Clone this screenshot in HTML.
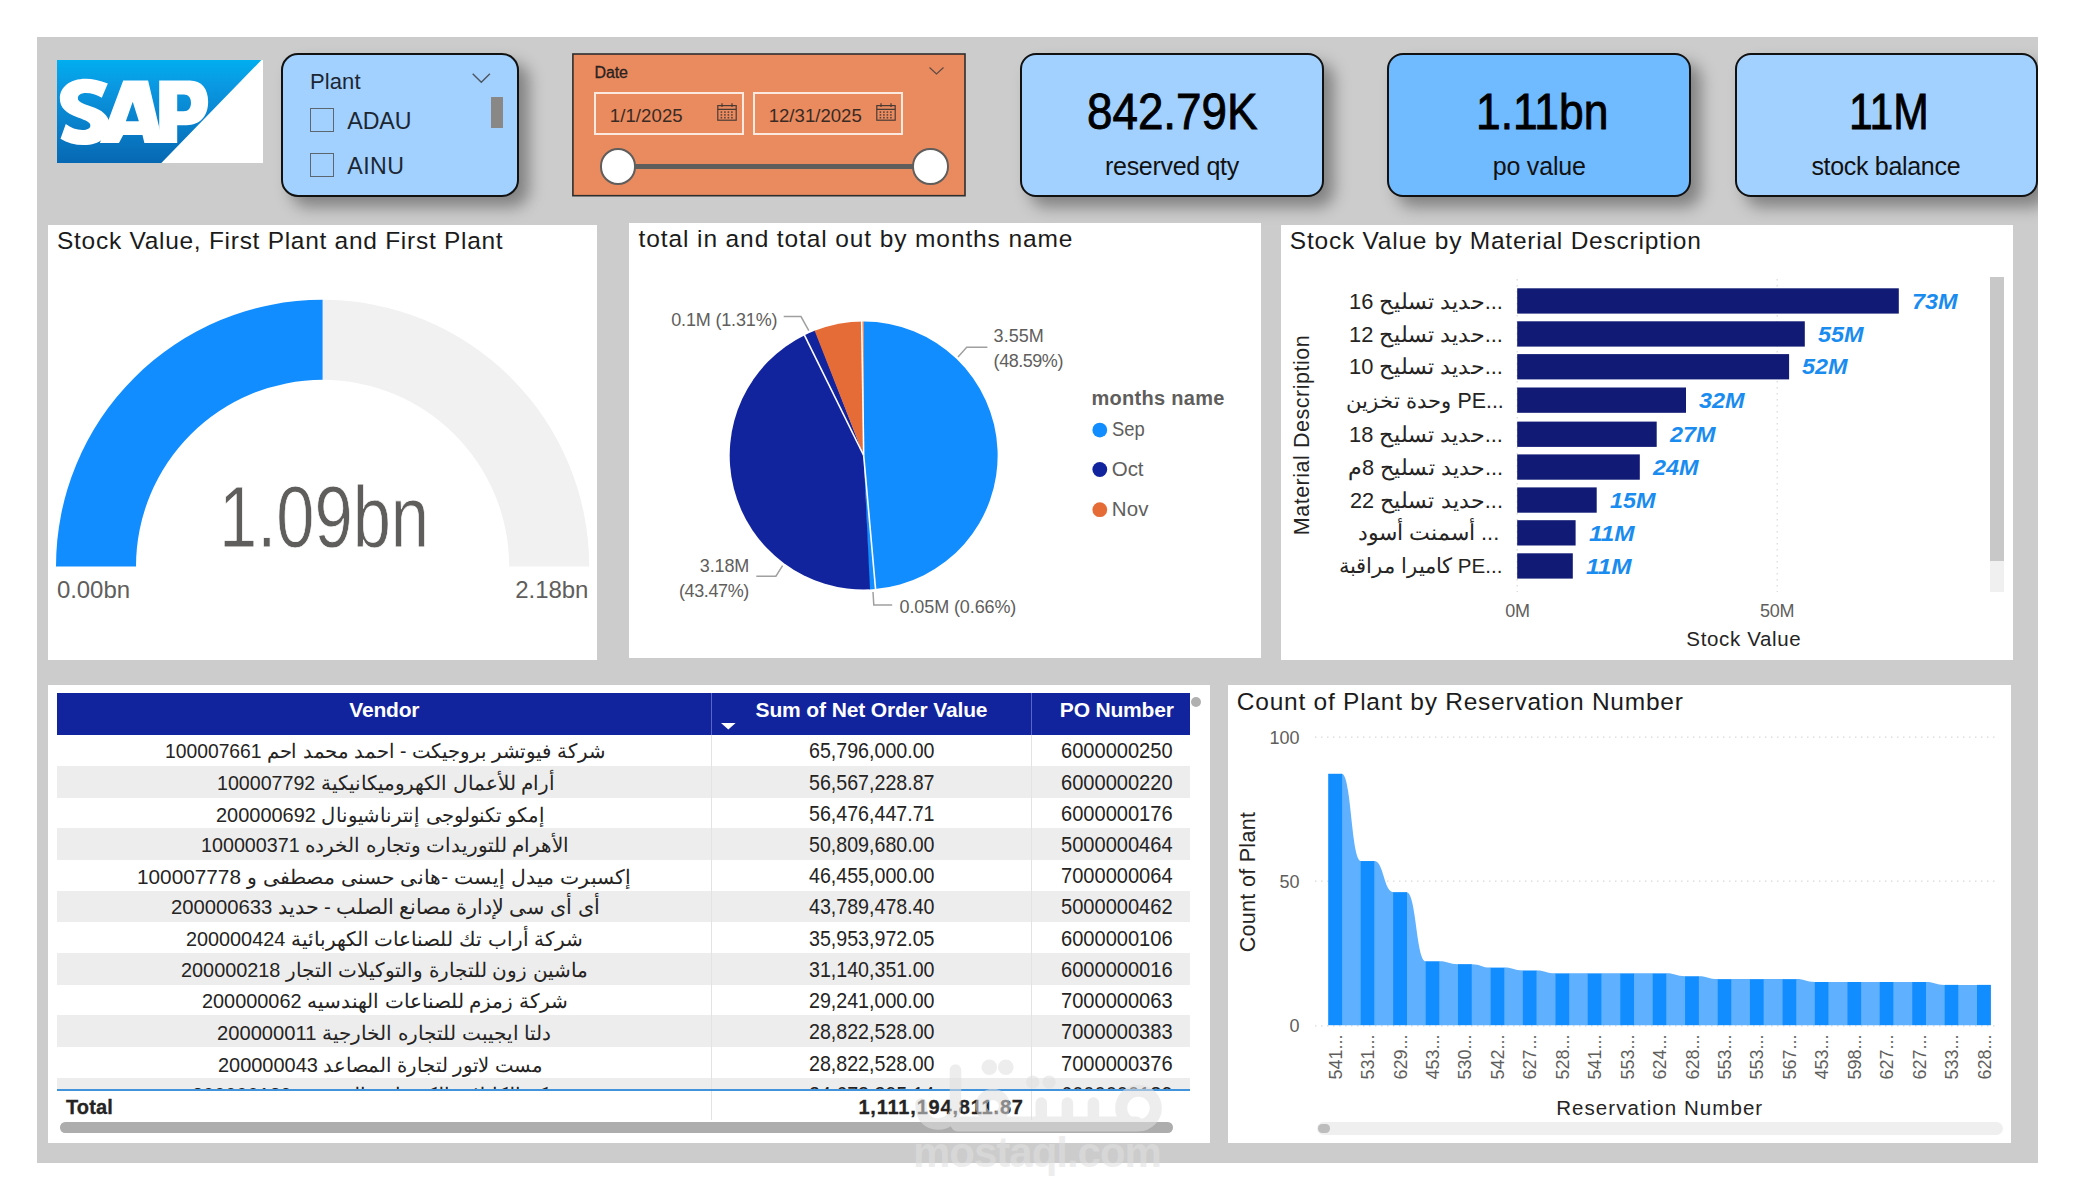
<!DOCTYPE html>
<html><head><meta charset="utf-8"><title>SAP Dashboard</title>
<style>
html,body{margin:0;padding:0}
body{width:2075px;height:1200px;position:relative;overflow:hidden;background:#fff;font-family:"Liberation Sans",sans-serif;color:#252423}
.a{position:absolute}
.t{position:absolute;white-space:nowrap;line-height:1}
svg{position:absolute;overflow:visible}
</style></head><body>
<div class="a" style="left:37.0px;top:37.0px;width:2001.0px;height:1126.0px;background:#cccccc;"></div>
<svg style="left:57px;top:60px" width="206" height="103" viewBox="65 45 1945 975" preserveAspectRatio="none">
<defs><linearGradient id="sg" x1="0" y1="0" x2="0" y2="1"><stop offset="0" stop-color="#00aeef"/><stop offset="0.25" stop-color="#0a98e2"/><stop offset="1" stop-color="#0768b3"/></linearGradient></defs>
<rect x="65" y="45" width="1945" height="975" fill="#fff"/>
<path d="M65 45H1995L1050 1020H65Z" fill="url(#sg)"/>
<g fill="#fff">
<path d="M545 268C470 236 400 222 335 222C190 222 92 300 92 408C92 500 150 548 262 590C345 620 380 636 380 665C380 692 352 708 305 708C250 708 195 688 148 652L98 790C160 830 235 850 315 850C395 850 455 830 495 795L560 640C545 560 485 520 395 488C300 455 262 440 262 408C262 378 290 358 338 358C390 358 440 374 488 402Z"/>
<path d="M690 240H925L1065 830H890L872 755H690L650 830H470ZM780 440L715 625H838Z"/>
<path d="M1030 240H1320C1430 240 1492 320 1492 440C1492 580 1410 662 1290 662H1200V830H1030ZM1200 372V530H1262C1305 530 1330 500 1330 450C1330 400 1305 372 1262 372Z"/>
</g></svg>
<div class="a" style="left:281.0px;top:53.0px;width:234.0px;height:140.0px;background:#a3d1ff;border:2px solid #111;border-radius:17px;box-shadow:10px 10px 16px rgba(0,0,0,0.37);"></div>
<div class="t" style="left:310.0px;top:70.6px;font-size:22.00px;color:#1b2733;letter-spacing:0.09px;">Plant</div>
<svg style="left:472px;top:73px" width="19" height="11"><path d="M0.7 0.7L9.3 9.3L17.9 0.7" fill="none" stroke="#4a5560" stroke-width="1.4"/></svg>
<div class="a" style="left:491.0px;top:97.0px;width:12.0px;height:31.0px;background:#8a8886;"></div>
<div class="a" style="left:309.5px;top:108.3px;width:22.0px;height:22.0px;background:transparent;border:1.3px solid #5b6670;"></div>
<div class="a" style="left:309.5px;top:153.2px;width:22.0px;height:22.0px;background:transparent;border:1.3px solid #5b6670;"></div>
<div class="t" style="left:347.3px;top:109.5px;font-size:23.20px;color:#1b2733;letter-spacing:-0.11px;">ADAU</div>
<div class="t" style="left:347.3px;top:154.5px;font-size:23.20px;color:#1b2733;letter-spacing:0.46px;">AINU</div>
<svg style="left:0;top:0" width="2075" height="1200"><rect x="572.9" y="54" width="392.1" height="141.7" fill="#e98a5f" stroke="#2e2e2e" stroke-width="1.6"/></svg>
<div class="t" style="left:594.4px;top:64.6px;font-size:16.00px;color:#2a2220;letter-spacing:-0.07px;-webkit-text-stroke:0.3px #2a2220;">Date</div>
<svg style="left:929px;top:67px" width="15" height="8"><path d="M0.5 0.5L7.5 7L14.5 0.5" fill="none" stroke="#5a4a44" stroke-width="1.1"/></svg>
<div class="a" style="left:594.0px;top:92.2px;width:146.0px;height:39.0px;background:transparent;border:2px solid #fbe9e0;"></div>
<div class="a" style="left:753.0px;top:92.2px;width:146.0px;height:39.0px;background:transparent;border:2px solid #fbe9e0;"></div>
<div class="t" style="left:609.8px;top:107.3px;font-size:18.60px;color:#3a2a24;letter-spacing:0.07px;">1/1/2025</div>
<div class="t" style="left:768.7px;top:107.3px;font-size:18.60px;color:#3a2a24;">12/31/2025</div>
<svg style="left:716.6px;top:103px" width="20" height="18" viewBox="0 0 20 18"><g fill="none" stroke="#4a3a34" stroke-width="1.2"><rect x="0.8" y="2.6" width="18.4" height="14.6"/><path d="M0.8 6.4H19.2M5 0.3V4M15 0.3V4"/></g><g fill="#5a443c"><rect x="3.6" y="8.3" width="1.6" height="1.6"/><rect x="3.6" y="11.1" width="1.6" height="1.6"/><rect x="3.6" y="13.9" width="1.6" height="1.6"/><rect x="7.1" y="8.3" width="1.6" height="1.6"/><rect x="7.1" y="11.1" width="1.6" height="1.6"/><rect x="7.1" y="13.9" width="1.6" height="1.6"/><rect x="10.6" y="8.3" width="1.6" height="1.6"/><rect x="10.6" y="11.1" width="1.6" height="1.6"/><rect x="10.6" y="13.9" width="1.6" height="1.6"/><rect x="14.1" y="8.3" width="1.6" height="1.6"/><rect x="14.1" y="11.1" width="1.6" height="1.6"/><rect x="14.1" y="13.9" width="1.6" height="1.6"/></g></svg>
<svg style="left:875.8px;top:103px" width="20" height="18" viewBox="0 0 20 18"><g fill="none" stroke="#4a3a34" stroke-width="1.2"><rect x="0.8" y="2.6" width="18.4" height="14.6"/><path d="M0.8 6.4H19.2M5 0.3V4M15 0.3V4"/></g><g fill="#5a443c"><rect x="3.6" y="8.3" width="1.6" height="1.6"/><rect x="3.6" y="11.1" width="1.6" height="1.6"/><rect x="3.6" y="13.9" width="1.6" height="1.6"/><rect x="7.1" y="8.3" width="1.6" height="1.6"/><rect x="7.1" y="11.1" width="1.6" height="1.6"/><rect x="7.1" y="13.9" width="1.6" height="1.6"/><rect x="10.6" y="8.3" width="1.6" height="1.6"/><rect x="10.6" y="11.1" width="1.6" height="1.6"/><rect x="10.6" y="13.9" width="1.6" height="1.6"/><rect x="14.1" y="8.3" width="1.6" height="1.6"/><rect x="14.1" y="11.1" width="1.6" height="1.6"/><rect x="14.1" y="13.9" width="1.6" height="1.6"/></g></svg>
<div class="a" style="left:620.0px;top:164.0px;width:310.0px;height:5.0px;background:#605e5c;"></div>
<div class="a" style="left:599.5px;top:148.3px;width:32.4px;height:32.4px;background:#fff;border:2.6px solid #605e5c;border-radius:50%;"></div>
<div class="a" style="left:912.2px;top:148.3px;width:32.4px;height:32.4px;background:#fff;border:2.6px solid #605e5c;border-radius:50%;"></div>
<div class="a" style="left:1020.0px;top:53.0px;width:300.0px;height:140.0px;background:#a3d1ff;border:2px solid #111;border-radius:16px;box-shadow:10px 10px 16px rgba(0,0,0,0.37);"></div>
<div class="t" style="left:1087.0px;top:87.1px;font-size:50.00px;color:#000;transform:scaleX(0.9153);transform-origin:0 0;-webkit-text-stroke:0.9px #000;">842.79K</div>
<div class="t" style="left:1105.0px;top:153.6px;font-size:25.00px;color:#111;letter-spacing:-0.30px;">reserved qty</div>
<div class="a" style="left:1387.0px;top:53.0px;width:300.0px;height:140.0px;background:#70baff;border:2px solid #111;border-radius:16px;box-shadow:10px 10px 16px rgba(0,0,0,0.37);"></div>
<div class="t" style="left:1476.0px;top:87.1px;font-size:50.00px;color:#000;transform:scaleX(0.8866);transform-origin:0 0;-webkit-text-stroke:0.9px #000;">1.11bn</div>
<div class="t" style="left:1492.7px;top:153.6px;font-size:25.00px;color:#111;letter-spacing:-0.19px;">po value</div>
<div class="a" style="left:1735.0px;top:53.0px;width:299.0px;height:140.0px;background:#a3d1ff;border:2px solid #111;border-radius:16px;box-shadow:10px 10px 16px rgba(0,0,0,0.37);"></div>
<div class="t" style="left:1849.0px;top:87.1px;font-size:50.00px;color:#000;transform:scaleX(0.8529);transform-origin:0 0;-webkit-text-stroke:0.9px #000;">11M</div>
<div class="t" style="left:1811.4px;top:153.6px;font-size:25.00px;color:#111;letter-spacing:-0.31px;">stock balance</div>
<div class="a" style="left:48.0px;top:225.0px;width:549.0px;height:435.0px;background:#fff;"></div>
<div class="t" style="left:57.0px;top:229.3px;font-size:24.50px;color:#1b1b1b;letter-spacing:0.72px;">Stock Value, First Plant and First Plant</div>
<svg style="left:0;top:0" width="2075" height="1200"><path d="M322.60 299.80A266.60 266.60 0 0 1 589.20 566.40L509.20 566.40A186.60 186.60 0 0 0 322.60 379.80Z" fill="#f1f1f1"/><path d="M56.00 566.40A266.60 266.60 0 0 1 322.60 299.80L322.60 379.80A186.60 186.60 0 0 0 136.00 566.40Z" fill="#118dff"/></svg>
<div class="t" style="left:219.0px;top:472.6px;font-size:88.00px;color:#605e5c;transform:scaleX(0.7802);transform-origin:0 0;-webkit-text-stroke:0.8px #fff;">1.09bn</div>
<div class="t" style="left:57.0px;top:577.6px;font-size:24.00px;color:#605e5c;letter-spacing:-0.08px;">0.00bn</div>
<div class="t" style="left:515.3px;top:577.6px;font-size:24.00px;color:#605e5c;letter-spacing:-0.08px;">2.18bn</div>
<div class="a" style="left:629.0px;top:223.0px;width:632.0px;height:435.0px;background:#fff;"></div>
<div class="t" style="left:638.6px;top:227.3px;font-size:24.50px;color:#1b1b1b;letter-spacing:0.89px;">total in and total out by months name</div>
<svg style="left:0;top:0" width="2075" height="1200"><path d="M863.70 455.50L863.70 321.50A134.0 134.0 0 0 1 874.86 589.03Z" fill="#118dff"/><path d="M863.70 455.50L875.56 588.97A134.0 134.0 0 0 1 869.31 589.38Z" fill="#118dff"/><path d="M863.70 455.50L870.01 589.35A134.0 134.0 0 0 1 805.15 334.97Z" fill="#12239e"/><path d="M863.70 455.50L804.52 335.28A134.0 134.0 0 0 1 815.26 330.56Z" fill="#12239e"/><path d="M863.70 455.50L814.61 330.82A134.0 134.0 0 0 1 863.70 321.50Z" fill="#e66c37"/><path d="M863.70 455.50L861.70 321.01" stroke="#fff" stroke-width="1.6"/><path d="M863.70 455.50L875.60 589.47" stroke="#fff" stroke-width="1.6"/><path d="M863.70 455.50L804.30 334.83" stroke="#fff" stroke-width="1.6"/><path d="M783.7 316.6H801L808.8 330.6" fill="none" stroke="#a0a0a0" stroke-width="1.5"/><path d="M958 357L966.7 347.2H987.4" fill="none" stroke="#a0a0a0" stroke-width="1.5"/><path d="M756.3 576.2H775.9L782.6 565.7" fill="none" stroke="#a0a0a0" stroke-width="1.5"/><path d="M873 592L873.8 604.9H892.2" fill="none" stroke="#a0a0a0" stroke-width="1.5"/><circle cx="1099.8" cy="430.1" r="7.4" fill="#118dff"/><circle cx="1099.8" cy="469.5" r="7.4" fill="#12239e"/><circle cx="1099.8" cy="509.7" r="7.4" fill="#e66c37"/></svg>
<div class="t" style="left:671.2px;top:311.1px;font-size:18.00px;color:#605e5c;letter-spacing:-0.16px;">0.1M (1.31%)</div>
<div class="t" style="left:993.6px;top:327.1px;font-size:18.00px;color:#605e5c;letter-spacing:0.04px;">3.55M</div>
<div class="t" style="left:993.6px;top:352.1px;font-size:18.00px;color:#605e5c;letter-spacing:-0.46px;">(48.59%)</div>
<div class="t" style="left:699.8px;top:557.1px;font-size:18.00px;color:#605e5c;letter-spacing:-0.13px;">3.18M</div>
<div class="t" style="left:679.0px;top:582.1px;font-size:18.00px;color:#605e5c;letter-spacing:-0.39px;">(43.47%)</div>
<div class="t" style="left:899.5px;top:598.1px;font-size:18.00px;color:#605e5c;letter-spacing:-0.10px;">0.05M (0.66%)</div>
<div class="t" style="left:1091.4px;top:388.1px;font-size:20.00px;font-weight:bold;color:#605e5c;letter-spacing:0.30px;">months name</div>
<div class="t" style="left:1111.8px;top:419.4px;font-size:20.50px;color:#605e5c;transform:scaleX(0.8963);transform-origin:0 0;">Sep</div>
<div class="t" style="left:1111.8px;top:459.4px;font-size:20.50px;color:#605e5c;letter-spacing:-0.10px;">Oct</div>
<div class="t" style="left:1111.8px;top:499.4px;font-size:20.50px;color:#605e5c;letter-spacing:0.12px;">Nov</div>
<div class="a" style="left:1281.0px;top:225.0px;width:732.0px;height:435.0px;background:#fff;"></div>
<div class="t" style="left:1289.8px;top:229.3px;font-size:24.50px;color:#1b1b1b;letter-spacing:0.77px;">Stock Value by Material Description</div>
<svg style="left:0;top:0" width="2075" height="1200"><path d="M1517.2 279V592" stroke="#dcdcdc" stroke-width="1.3" stroke-dasharray="1.5 4.5"/><path d="M1777.2 279V592" stroke="#dcdcdc" stroke-width="1.3" stroke-dasharray="1.5 4.5"/><rect x="1517.2" y="288.3" width="381.6" height="25.3" fill="#111a74"/><rect x="1517.2" y="321.3" width="287.6" height="25.3" fill="#111a74"/><rect x="1517.2" y="354.1" width="271.9" height="25.3" fill="#111a74"/><rect x="1517.2" y="387.5" width="168.8" height="25.3" fill="#111a74"/><rect x="1517.2" y="421.6" width="139.5" height="25.3" fill="#111a74"/><rect x="1517.2" y="454.4" width="122.6" height="25.3" fill="#111a74"/><rect x="1517.2" y="487.4" width="79.5" height="25.3" fill="#111a74"/><rect x="1517.2" y="520.2" width="58.4" height="25.3" fill="#111a74"/><rect x="1517.2" y="553.3" width="55.6" height="25.3" fill="#111a74"/></svg>
<div class="t" style="left:1912.0px;top:290.6px;font-size:22.00px;font-weight:bold;font-style:italic;color:#1a8cf0;transform:scaleX(1.0632);transform-origin:0 0;">73M</div>
<div class="t" style="left:1349.2px;top:290.8px;font-size:21.58px;color:#252423;transform:scaleX(1.0128);transform-origin:0 0;">حديد تسليح 16...</div>
<div class="t" style="left:1818.0px;top:323.6px;font-size:22.00px;font-weight:bold;font-style:italic;color:#1a8cf0;transform:scaleX(1.0632);transform-origin:0 0;">55M</div>
<div class="t" style="left:1349.2px;top:323.8px;font-size:21.58px;color:#252423;transform:scaleX(1.0128);transform-origin:0 0;">حديد تسليح 12...</div>
<div class="t" style="left:1802.3px;top:355.6px;font-size:22.00px;font-weight:bold;font-style:italic;color:#1a8cf0;transform:scaleX(1.0632);transform-origin:0 0;">52M</div>
<div class="t" style="left:1349.2px;top:355.8px;font-size:21.58px;color:#252423;transform:scaleX(1.0128);transform-origin:0 0;">حديد تسليح 10...</div>
<div class="t" style="left:1699.2px;top:389.6px;font-size:22.00px;font-weight:bold;font-style:italic;color:#1a8cf0;transform:scaleX(1.0632);transform-origin:0 0;">32M</div>
<div class="t" style="left:1346.2px;top:390.5px;font-size:21.24px;color:#252423;transform:scaleX(1.0059);transform-origin:0 0;">وحدة تخزين PE...</div>
<div class="t" style="left:1669.9px;top:423.6px;font-size:22.00px;font-weight:bold;font-style:italic;color:#1a8cf0;transform:scaleX(1.0632);transform-origin:0 0;">27M</div>
<div class="t" style="left:1349.2px;top:423.8px;font-size:21.58px;color:#252423;transform:scaleX(1.0128);transform-origin:0 0;">حديد تسليح 18...</div>
<div class="t" style="left:1653.0px;top:456.6px;font-size:22.00px;font-weight:bold;font-style:italic;color:#1a8cf0;transform:scaleX(1.0632);transform-origin:0 0;">24M</div>
<div class="t" style="left:1348.0px;top:456.8px;font-size:21.66px;color:#252423;transform:scaleX(1.0066);transform-origin:0 0;">حديد تسليح 8م...</div>
<div class="t" style="left:1609.9px;top:489.6px;font-size:22.00px;font-weight:bold;font-style:italic;color:#1a8cf0;transform:scaleX(1.0632);transform-origin:0 0;">15M</div>
<div class="t" style="left:1350.2px;top:489.8px;font-size:21.58px;color:#252423;transform:scaleX(1.0061);transform-origin:0 0;">حديد تسليح 22...</div>
<div class="t" style="left:1588.8px;top:522.6px;font-size:22.00px;font-weight:bold;font-style:italic;color:#1a8cf0;transform:scaleX(1.1051);transform-origin:0 0;">11M</div>
<div class="t" style="left:1358.2px;top:521.7px;font-size:21.82px;color:#252423;transform:scaleX(0.9993);transform-origin:0 0;">أسمنت أسود ...</div>
<div class="t" style="left:1586.0px;top:555.6px;font-size:22.00px;font-weight:bold;font-style:italic;color:#1a8cf0;transform:scaleX(1.1051);transform-origin:0 0;">11M</div>
<div class="t" style="left:1339.0px;top:556.3px;font-size:20.50px;color:#252423;transform:scaleX(1.0032);transform-origin:0 0;">كاميرا مراقبة PE...</div>
<div class="t" style="left:1505.3px;top:602.1px;font-size:18.00px;color:#605e5c;letter-spacing:-0.32px;">0M</div>
<div class="t" style="left:1760.0px;top:602.1px;font-size:18.00px;color:#605e5c;letter-spacing:-0.21px;">50M</div>
<div class="t" style="left:1686.3px;top:629.4px;font-size:20.50px;color:#252423;letter-spacing:0.66px;">Stock Value</div>
<div class="t" style="left:1302.5px;top:434.8px;font-size:21.50px;color:#252423;letter-spacing:0.53px;transform:translate(-50%,-50%) rotate(-90deg);">Material Description</div>
<div class="a" style="left:1990.0px;top:276.6px;width:14.0px;height:284.0px;background:#c8c8c8;"></div>
<div class="a" style="left:1990.0px;top:560.6px;width:14.0px;height:31.5px;background:#f0f0f0;"></div>
<div class="a" style="left:48.0px;top:685.0px;width:1162.0px;height:458.0px;background:#fff;"></div>
<div class="a" style="left:57.2px;top:693.2px;width:1132.6px;height:41.6px;background:#12239e;"></div>
<div class="a" style="left:710.8px;top:693.2px;width:1.2px;height:41.6px;background:#5a66bf;"></div>
<div class="a" style="left:1030.7px;top:693.2px;width:1.2px;height:41.6px;background:#5a66bf;"></div>
<div class="t" style="left:349.3px;top:699.1px;font-size:21.00px;font-weight:bold;color:#fff;letter-spacing:-0.20px;">Vendor</div>
<div class="t" style="left:755.5px;top:699.1px;font-size:21.00px;font-weight:bold;color:#fff;letter-spacing:-0.12px;">Sum of Net Order Value</div>
<div class="t" style="left:1059.8px;top:699.1px;font-size:21.00px;font-weight:bold;color:#fff;letter-spacing:-0.17px;">PO Number</div>
<svg style="left:721px;top:723px" width="15" height="7"><path d="M0 0H14.6L7.3 6.6Z" fill="#fff"/></svg>
<div class="a" style="left:1191.2px;top:697.0px;width:10.0px;height:10.0px;background:#b0b0b0;border-radius:5px;"></div>
<div class="a" style="left:57.2px;top:734.8px;width:1132.6px;height:354.6px;overflow:hidden">
<div class="t" style="left:107.4px;top:7.3px;font-size:19.62px;color:#252423;transform:scaleX(0.9835);transform-origin:0 0;">شركة فيوتشر بروجيكت - احمد محمد احم 100007661</div>
<div class="t" style="left:752.1px;top:5.7px;font-size:21.80px;color:#252423;transform:scaleX(0.9002);transform-origin:0 0;">65,796,000.00</div>
<div class="t" style="left:1004.2px;top:5.7px;font-size:21.80px;color:#252423;transform:scaleX(0.9205);transform-origin:0 0;">6000000250</div>
<div class="a" style="left:0.0px;top:30.9px;width:1132.6px;height:31.9px;background:#ededed;"></div>
<div class="t" style="left:159.6px;top:39.3px;font-size:19.68px;color:#252423;transform:scaleX(0.9976);transform-origin:0 0;">أرام للأعمال الكهروميكانيكية 100007792</div>
<div class="t" style="left:752.1px;top:37.7px;font-size:21.80px;color:#252423;transform:scaleX(0.9002);transform-origin:0 0;">56,567,228.87</div>
<div class="t" style="left:1004.2px;top:37.7px;font-size:21.80px;color:#252423;transform:scaleX(0.9205);transform-origin:0 0;">6000000220</div>
<div class="t" style="left:158.6px;top:69.9px;font-size:20.42px;color:#252423;transform:scaleX(0.9776);transform-origin:0 0;">إمكو تكنولوجى إنترناشيونال 200000692</div>
<div class="t" style="left:752.1px;top:68.7px;font-size:21.80px;color:#252423;transform:scaleX(0.9002);transform-origin:0 0;">56,476,447.71</div>
<div class="t" style="left:1004.2px;top:68.7px;font-size:21.80px;color:#252423;transform:scaleX(0.9205);transform-origin:0 0;">6000000176</div>
<div class="a" style="left:0.0px;top:93.4px;width:1132.6px;height:31.9px;background:#ededed;"></div>
<div class="t" style="left:144.2px;top:101.2px;font-size:19.74px;color:#252423;transform:scaleX(0.9989);transform-origin:0 0;">الأهرام للتوريدات وتجاره الخرده 100000371</div>
<div class="t" style="left:752.1px;top:99.7px;font-size:21.80px;color:#252423;transform:scaleX(0.9002);transform-origin:0 0;">50,809,680.00</div>
<div class="t" style="left:1004.2px;top:99.7px;font-size:21.80px;color:#252423;transform:scaleX(0.9205);transform-origin:0 0;">5000000464</div>
<div class="t" style="left:80.2px;top:131.9px;font-size:20.42px;color:#252423;transform:scaleX(1.0178);transform-origin:0 0;">إكسبرت ميدل إيست -هانى حسنى مصطفى و 100007778</div>
<div class="t" style="left:752.1px;top:130.7px;font-size:21.80px;color:#252423;transform:scaleX(0.9002);transform-origin:0 0;">46,455,000.00</div>
<div class="t" style="left:1004.2px;top:130.7px;font-size:21.80px;color:#252423;transform:scaleX(0.9205);transform-origin:0 0;">7000000064</div>
<div class="a" style="left:0.0px;top:155.8px;width:1132.6px;height:31.9px;background:#ededed;"></div>
<div class="t" style="left:113.4px;top:162.3px;font-size:20.51px;color:#252423;transform:scaleX(0.9872);transform-origin:0 0;">أى أى سى لإدارة مصانع الصلب - حديد 200000633</div>
<div class="t" style="left:752.1px;top:161.7px;font-size:21.80px;color:#252423;transform:scaleX(0.9002);transform-origin:0 0;">43,789,478.40</div>
<div class="t" style="left:1004.2px;top:161.7px;font-size:21.80px;color:#252423;transform:scaleX(0.9205);transform-origin:0 0;">5000000462</div>
<div class="t" style="left:129.0px;top:195.2px;font-size:19.79px;color:#252423;transform:scaleX(1.0018);transform-origin:0 0;">شركة أراب تك للصناعات الكهربائية 200000424</div>
<div class="t" style="left:752.1px;top:193.7px;font-size:21.80px;color:#252423;transform:scaleX(0.9002);transform-origin:0 0;">35,953,972.05</div>
<div class="t" style="left:1004.2px;top:193.7px;font-size:21.80px;color:#252423;transform:scaleX(0.9205);transform-origin:0 0;">6000000106</div>
<div class="a" style="left:0.0px;top:218.2px;width:1132.6px;height:31.9px;background:#ededed;"></div>
<div class="t" style="left:124.0px;top:226.2px;font-size:19.88px;color:#252423;transform:scaleX(0.9998);transform-origin:0 0;">ماشين زون للتجارة والتوكيلات التجار 200000218</div>
<div class="t" style="left:752.1px;top:224.7px;font-size:21.80px;color:#252423;transform:scaleX(0.9002);transform-origin:0 0;">31,140,351.00</div>
<div class="t" style="left:1004.2px;top:224.7px;font-size:21.80px;color:#252423;transform:scaleX(0.9205);transform-origin:0 0;">6000000016</div>
<div class="t" style="left:145.0px;top:257.2px;font-size:19.85px;color:#252423;transform:scaleX(1.0019);transform-origin:0 0;">شركة زمزم للصناعات الهندسيه 200000062</div>
<div class="t" style="left:752.1px;top:255.7px;font-size:21.80px;color:#252423;transform:scaleX(0.9002);transform-origin:0 0;">29,241,000.00</div>
<div class="t" style="left:1004.2px;top:255.7px;font-size:21.80px;color:#252423;transform:scaleX(0.9205);transform-origin:0 0;">7000000063</div>
<div class="a" style="left:0.0px;top:280.7px;width:1132.6px;height:31.9px;background:#ededed;"></div>
<div class="t" style="left:160.2px;top:288.0px;font-size:20.11px;color:#252423;transform:scaleX(1.0024);transform-origin:0 0;">دلتا ايجيبت للتجاره الخارجية 200000011</div>
<div class="t" style="left:752.1px;top:286.7px;font-size:21.80px;color:#252423;transform:scaleX(0.9002);transform-origin:0 0;">28,822,528.00</div>
<div class="t" style="left:1004.2px;top:286.7px;font-size:21.80px;color:#252423;transform:scaleX(0.9205);transform-origin:0 0;">7000000383</div>
<div class="t" style="left:160.8px;top:319.9px;font-size:20.37px;color:#252423;transform:scaleX(0.9796);transform-origin:0 0;">مست لاتور لتجارة المصاعد 200000043</div>
<div class="t" style="left:752.1px;top:318.7px;font-size:21.80px;color:#252423;transform:scaleX(0.9002);transform-origin:0 0;">28,822,528.00</div>
<div class="t" style="left:1004.2px;top:318.7px;font-size:21.80px;color:#252423;transform:scaleX(0.9205);transform-origin:0 0;">7000000376</div>
<div class="a" style="left:0.0px;top:343.1px;width:1132.6px;height:31.9px;background:#ededed;"></div>
<div class="t" style="left:134.8px;top:351.1px;font-size:19.93px;color:#252423;">شركة الكابلات الكهربائية المصرية 200000129</div>
<div class="t" style="left:752.1px;top:349.7px;font-size:21.80px;color:#252423;transform:scaleX(0.9002);transform-origin:0 0;">24,678,395.14</div>
<div class="t" style="left:1004.2px;top:349.7px;font-size:21.80px;color:#252423;transform:scaleX(0.9205);transform-origin:0 0;">6000000189</div>
</div>
<div class="a" style="left:710.9px;top:734.8px;width:1.1px;height:385.6px;background:#e3e3e3;"></div>
<div class="a" style="left:1030.8px;top:734.8px;width:1.1px;height:385.6px;background:#e3e3e3;"></div>
<div class="a" style="left:57.2px;top:1089.2px;width:1132.6px;height:1.5px;background:#4193dc;"></div>
<div class="t" style="left:66.0px;top:1097.1px;font-size:20.00px;font-weight:bold;color:#252423;letter-spacing:0.13px;-webkit-text-stroke:0.3px #252423;">Total</div>
<div class="t" style="left:858.4px;top:1097.1px;font-size:20.00px;font-weight:bold;color:#252423;letter-spacing:0.81px;-webkit-text-stroke:0.3px #252423;">1,111,194,811.87</div>
<div class="a" style="left:60.0px;top:1122.3px;width:1113.4px;height:10.4px;background:#adadad;border-radius:5.2px;"></div>
<div class="a" style="left:1228.0px;top:685.0px;width:783.0px;height:458.0px;background:#fff;"></div>
<div class="t" style="left:1236.8px;top:690.4px;font-size:24.50px;color:#1b1b1b;letter-spacing:0.76px;">Count of Plant by Reservation Number</div>
<svg style="left:0;top:0" width="2075" height="1200"><path d="M1315 1025.8H1997" stroke="#d9d9d9" stroke-width="1.3" stroke-dasharray="1.5 4.5"/><path d="M1315 881.2H1997" stroke="#d9d9d9" stroke-width="1.3" stroke-dasharray="1.5 4.5"/><path d="M1315 737.2H1997" stroke="#d9d9d9" stroke-width="1.3" stroke-dasharray="1.5 4.5"/><path d="M1341.80 773.78C1351.37 773.78 1351.37 861.04 1360.94 861.04V1025.2H1341.80Z" fill="#5fb0ff"/><path d="M1374.24 861.04C1383.81 861.04 1383.81 892.14 1393.38 892.14V1025.2H1374.24Z" fill="#5fb0ff"/><path d="M1406.68 892.14C1416.25 892.14 1416.25 961.26 1425.82 961.26V1025.2H1406.68Z" fill="#5fb0ff"/><path d="M1439.12 961.26C1448.69 961.26 1448.69 964.14 1458.26 964.14V1025.2H1439.12Z" fill="#5fb0ff"/><path d="M1471.56 964.14C1481.13 964.14 1481.13 967.60 1490.70 967.60V1025.2H1471.56Z" fill="#5fb0ff"/><path d="M1504.00 967.60C1513.57 967.60 1513.57 970.48 1523.14 970.48V1025.2H1504.00Z" fill="#5fb0ff"/><path d="M1536.44 970.48C1546.01 970.48 1546.01 973.36 1555.58 973.36V1025.2H1536.44Z" fill="#5fb0ff"/><path d="M1568.88 973.36C1578.45 973.36 1578.45 973.36 1588.02 973.36V1025.2H1568.88Z" fill="#5fb0ff"/><path d="M1601.32 973.36C1610.89 973.36 1610.89 973.36 1620.46 973.36V1025.2H1601.32Z" fill="#5fb0ff"/><path d="M1633.76 973.36C1643.33 973.36 1643.33 973.36 1652.90 973.36V1025.2H1633.76Z" fill="#5fb0ff"/><path d="M1666.20 973.36C1675.77 973.36 1675.77 976.24 1685.34 976.24V1025.2H1666.20Z" fill="#5fb0ff"/><path d="M1698.64 976.24C1708.21 976.24 1708.21 979.12 1717.78 979.12V1025.2H1698.64Z" fill="#5fb0ff"/><path d="M1731.08 979.12C1740.65 979.12 1740.65 979.12 1750.22 979.12V1025.2H1731.08Z" fill="#5fb0ff"/><path d="M1763.52 979.12C1773.09 979.12 1773.09 979.12 1782.66 979.12V1025.2H1763.52Z" fill="#5fb0ff"/><path d="M1795.96 979.12C1805.53 979.12 1805.53 982.00 1815.10 982.00V1025.2H1795.96Z" fill="#5fb0ff"/><path d="M1828.40 982.00C1837.97 982.00 1837.97 982.00 1847.54 982.00V1025.2H1828.40Z" fill="#5fb0ff"/><path d="M1860.84 982.00C1870.41 982.00 1870.41 982.00 1879.98 982.00V1025.2H1860.84Z" fill="#5fb0ff"/><path d="M1893.28 982.00C1902.85 982.00 1902.85 982.00 1912.42 982.00V1025.2H1893.28Z" fill="#5fb0ff"/><path d="M1925.72 982.00C1935.29 982.00 1935.29 984.88 1944.86 984.88V1025.2H1925.72Z" fill="#5fb0ff"/><path d="M1958.16 984.88C1967.73 984.88 1967.73 984.88 1977.30 984.88V1025.2H1958.16Z" fill="#5fb0ff"/><rect x="1328.20" y="773.78" width="13.90" height="251.42" fill="#118dff"/><rect x="1360.64" y="861.04" width="13.90" height="164.16" fill="#118dff"/><rect x="1393.08" y="892.14" width="13.90" height="133.06" fill="#118dff"/><rect x="1425.52" y="961.26" width="13.90" height="63.94" fill="#118dff"/><rect x="1457.96" y="964.14" width="13.90" height="61.06" fill="#118dff"/><rect x="1490.40" y="967.60" width="13.90" height="57.60" fill="#118dff"/><rect x="1522.84" y="970.48" width="13.90" height="54.72" fill="#118dff"/><rect x="1555.28" y="973.36" width="13.90" height="51.84" fill="#118dff"/><rect x="1587.72" y="973.36" width="13.90" height="51.84" fill="#118dff"/><rect x="1620.16" y="973.36" width="13.90" height="51.84" fill="#118dff"/><rect x="1652.60" y="973.36" width="13.90" height="51.84" fill="#118dff"/><rect x="1685.04" y="976.24" width="13.90" height="48.96" fill="#118dff"/><rect x="1717.48" y="979.12" width="13.90" height="46.08" fill="#118dff"/><rect x="1749.92" y="979.12" width="13.90" height="46.08" fill="#118dff"/><rect x="1782.36" y="979.12" width="13.90" height="46.08" fill="#118dff"/><rect x="1814.80" y="982.00" width="13.90" height="43.20" fill="#118dff"/><rect x="1847.24" y="982.00" width="13.90" height="43.20" fill="#118dff"/><rect x="1879.68" y="982.00" width="13.90" height="43.20" fill="#118dff"/><rect x="1912.12" y="982.00" width="13.90" height="43.20" fill="#118dff"/><rect x="1944.56" y="984.88" width="13.90" height="40.32" fill="#118dff"/><rect x="1977.00" y="984.88" width="13.90" height="40.32" fill="#118dff"/></svg>
<div class="t" style="left:1269.5px;top:729.1px;font-size:18.00px;color:#605e5c;letter-spacing:-0.07px;">100</div>
<div class="t" style="left:1279.5px;top:873.1px;font-size:18.00px;color:#605e5c;letter-spacing:-0.13px;">50</div>
<div class="t" style="left:1289.5px;top:1017.1px;font-size:18.00px;color:#605e5c;letter-spacing:-0.12px;">0</div>
<div class="t" style="left:1248.6px;top:881.7px;font-size:21.50px;color:#252423;letter-spacing:0.30px;transform:translate(-50%,-50%) rotate(-90deg);">Count of Plant</div>
<div class="t" style="left:1335.7px;top:1056.5px;font-size:18px;color:#605e5c;transform:translate(-50%,-50%) rotate(-90deg);">541...</div>
<div class="t" style="left:1368.1px;top:1056.5px;font-size:18px;color:#605e5c;transform:translate(-50%,-50%) rotate(-90deg);">531...</div>
<div class="t" style="left:1400.5px;top:1056.5px;font-size:18px;color:#605e5c;transform:translate(-50%,-50%) rotate(-90deg);">629...</div>
<div class="t" style="left:1433.0px;top:1056.5px;font-size:18px;color:#605e5c;transform:translate(-50%,-50%) rotate(-90deg);">453...</div>
<div class="t" style="left:1465.4px;top:1056.5px;font-size:18px;color:#605e5c;transform:translate(-50%,-50%) rotate(-90deg);">530...</div>
<div class="t" style="left:1497.9px;top:1056.5px;font-size:18px;color:#605e5c;transform:translate(-50%,-50%) rotate(-90deg);">542...</div>
<div class="t" style="left:1530.3px;top:1056.5px;font-size:18px;color:#605e5c;transform:translate(-50%,-50%) rotate(-90deg);">627...</div>
<div class="t" style="left:1562.7px;top:1056.5px;font-size:18px;color:#605e5c;transform:translate(-50%,-50%) rotate(-90deg);">528...</div>
<div class="t" style="left:1595.2px;top:1056.5px;font-size:18px;color:#605e5c;transform:translate(-50%,-50%) rotate(-90deg);">541...</div>
<div class="t" style="left:1627.6px;top:1056.5px;font-size:18px;color:#605e5c;transform:translate(-50%,-50%) rotate(-90deg);">553...</div>
<div class="t" style="left:1660.0px;top:1056.5px;font-size:18px;color:#605e5c;transform:translate(-50%,-50%) rotate(-90deg);">624...</div>
<div class="t" style="left:1692.5px;top:1056.5px;font-size:18px;color:#605e5c;transform:translate(-50%,-50%) rotate(-90deg);">628...</div>
<div class="t" style="left:1724.9px;top:1056.5px;font-size:18px;color:#605e5c;transform:translate(-50%,-50%) rotate(-90deg);">553...</div>
<div class="t" style="left:1757.4px;top:1056.5px;font-size:18px;color:#605e5c;transform:translate(-50%,-50%) rotate(-90deg);">553...</div>
<div class="t" style="left:1789.8px;top:1056.5px;font-size:18px;color:#605e5c;transform:translate(-50%,-50%) rotate(-90deg);">567...</div>
<div class="t" style="left:1822.2px;top:1056.5px;font-size:18px;color:#605e5c;transform:translate(-50%,-50%) rotate(-90deg);">453...</div>
<div class="t" style="left:1854.7px;top:1056.5px;font-size:18px;color:#605e5c;transform:translate(-50%,-50%) rotate(-90deg);">598...</div>
<div class="t" style="left:1887.1px;top:1056.5px;font-size:18px;color:#605e5c;transform:translate(-50%,-50%) rotate(-90deg);">627...</div>
<div class="t" style="left:1919.6px;top:1056.5px;font-size:18px;color:#605e5c;transform:translate(-50%,-50%) rotate(-90deg);">627...</div>
<div class="t" style="left:1952.0px;top:1056.5px;font-size:18px;color:#605e5c;transform:translate(-50%,-50%) rotate(-90deg);">533...</div>
<div class="t" style="left:1984.5px;top:1056.5px;font-size:18px;color:#605e5c;transform:translate(-50%,-50%) rotate(-90deg);">628...</div>
<div class="t" style="left:1556.2px;top:1098.3px;font-size:20.50px;color:#252423;letter-spacing:1.06px;">Reservation Number</div>
<div class="a" style="left:1317.4px;top:1121.5px;width:685.6px;height:13.2px;background:#efefef;border-radius:6.6px;"></div>
<div class="a" style="left:1318.4px;top:1124.0px;width:11.5px;height:8.5px;background:#bdbdbd;border-radius:4.2px;"></div>
<div class="a" style="left:2038.0px;top:0.0px;width:37.0px;height:1200.0px;background:#fff;"></div>
<div class="a" style="left:0.0px;top:1163.0px;width:2075.0px;height:37.0px;background:#fff;"></div>
<svg style="left:914px;top:1058px;opacity:0.55" width="250" height="80" viewBox="0 0 250 80">
<g fill="none" stroke="#e0e0e0" stroke-linecap="round" stroke-linejoin="round">
<path d="M41.5 12V50C41.5 70 6 74 7 46" stroke-width="11.5"/>
<path d="M44 66H222" stroke-width="15"/>
<circle cx="78.8" cy="48" r="11.7" stroke-width="11.3"/>
<path d="M127.3 45V60M153.4 45V60M179.4 45V60" stroke-width="11.5"/>
<circle cx="224.5" cy="50" r="17.3" stroke-width="12.1"/>
</g>
<g fill="#e0e0e0"><circle cx="75.3" cy="9.3" r="7.8"/><circle cx="91.8" cy="9.3" r="7.8"/><circle cx="118.7" cy="24" r="6.6"/><circle cx="135.1" cy="24" r="6.6"/></g>
</svg>
<div class="t" style="left:913.0px;top:1131.6px;font-size:42.00px;font-weight:bold;color:#e0e0e0;letter-spacing:-1.01px;opacity:0.55;">mostaql.com</div>
</body></html>
